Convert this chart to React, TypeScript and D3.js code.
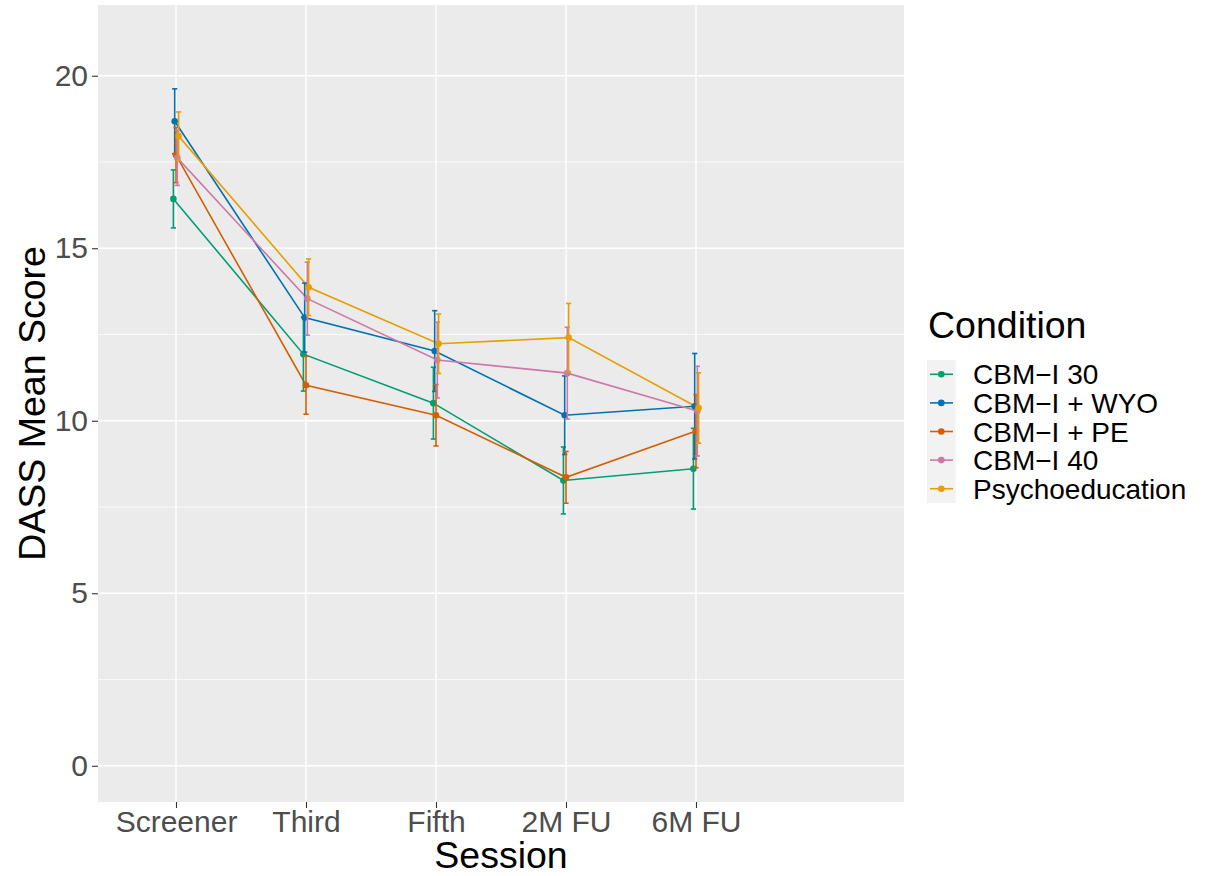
import React, { useEffect, useRef } from "react";
import * as d3 from "d3";

// sessions on the x axis
const sessions = ["Screener", "Third", "Fifth", "2M FU", "6M FU"];
const conditions = ["CBM−I 30", "CBM−I + WYO", "CBM−I + PE", "CBM−I 40", "Psychoeducation"];
const colors = ["#009E73", "#0072B2", "#D55E00", "#CC79A7", "#E69F00"];

// mean scores per condition
const cbm30Mean = [16.43, 11.93, 10.51, 8.27, 8.61];
const wyoMean = [18.68, 12.99, 12.02, 10.16, 10.42];
const peMean = [17.7, 11.03, 10.16, 8.36, 9.7];
const cbm40Mean = [17.62, 13.54, 11.76, 11.38, 10.28];
const psyMean = [18.25, 13.87, 12.23, 12.41, 10.37];

// standard errors
const cbm30Se = [0.84, 1.07, 1.04, 0.97, 1.17];
const wyoSe = [0.94, 1.0, 1.17, 1.14, 1.53];
const peSe = [0.8, 0.84, 0.89, 0.75, 1.06];
const cbm40Se = [0.8, 1.06, 1.1, 1.33, 1.3];
const psySe = [0.7, 0.82, 0.86, 0.99, 1.02];

const yTicks = [0, 5, 10, 15, 20];

const means = [cbm30Mean, wyoMean, peMean, cbm40Mean, psyMean];
const ses = [cbm30Se, wyoSe, peSe, cbm40Se, psySe];

const FONT = "'Liberation Sans', Arial, sans-serif";

export default function App() {
  const ref = useRef<SVGSVGElement>(null);

  useEffect(() => {
    const svg = d3.select(ref.current);
    svg.selectAll("*").remove();

    const panel = { left: 98, right: 904, top: 5, bottom: 802 };

    // extra empty slot on the right, like the original plot's limits
    const x = d3.scalePoint<string>()
      .domain([...sessions, ""])
      .range([panel.left, panel.right])
      .padding(0.6);
    const step = x.step();

    const y = d3.scaleLinear()
      .domain([-1.05, 22.05])
      .range([panel.bottom, panel.top]);

    // panel background
    svg.append("rect")
      .attr("x", panel.left)
      .attr("y", panel.top)
      .attr("width", panel.right - panel.left)
      .attr("height", panel.bottom - panel.top)
      .attr("fill", "#EBEBEB");

    // minor grid
    const minor = [2.5, 7.5, 12.5, 17.5];
    svg.selectAll(".minor")
      .data(minor)
      .enter()
      .append("line")
      .attr("x1", panel.left)
      .attr("x2", panel.right)
      .attr("y1", d => y(d))
      .attr("y2", d => y(d))
      .attr("stroke", "#fff")
      .attr("stroke-width", 0.7);

    // major grid
    svg.selectAll(".majorY")
      .data(yTicks)
      .enter()
      .append("line")
      .attr("x1", panel.left)
      .attr("x2", panel.right)
      .attr("y1", d => y(d))
      .attr("y2", d => y(d))
      .attr("stroke", "#fff")
      .attr("stroke-width", 1.4);

    svg.selectAll(".majorX")
      .data(sessions)
      .enter()
      .append("line")
      .attr("x1", d => x(d)!)
      .attr("x2", d => x(d)!)
      .attr("y1", panel.top)
      .attr("y2", panel.bottom)
      .attr("stroke", "#fff")
      .attr("stroke-width", 1.4);

    // y axis
    const yAxis = svg.append("g")
      .attr("transform", `translate(${panel.left},0)`)
      .call(d3.axisLeft(y).tickValues(yTicks).tickSize(6).tickPadding(4).tickFormat(d3.format("d")));
    yAxis.select(".domain").remove();
    yAxis.selectAll("line").attr("stroke", "#333333").attr("stroke-width", 1.1);
    yAxis.selectAll("text")
      .attr("fill", "#4D4D4D")
      .style("font-family", FONT)
      .style("font-size", "30px");

    // x axis
    const xAxis = svg.append("g")
      .attr("transform", `translate(0,${panel.bottom})`)
      .call(d3.axisBottom(x).tickValues(sessions).tickSize(6).tickPadding(3));
    xAxis.select(".domain").remove();
    xAxis.selectAll("line").attr("stroke", "#333333").attr("stroke-width", 1.1);
    xAxis.selectAll("text")
      .attr("fill", "#4D4D4D")
      .style("font-family", FONT)
      .style("font-size", "30px");

    // axis titles
    svg.append("text")
      .attr("x", (panel.left + panel.right) / 2)
      .attr("y", 868)
      .attr("text-anchor", "middle")
      .style("font-family", FONT)
      .style("font-size", "37.5px")
      .text("Session");

    svg.append("text")
      .attr("transform", `translate(45,${(panel.top + panel.bottom) / 2}) rotate(-90)`)
      .attr("text-anchor", "middle")
      .style("font-family", FONT)
      .style("font-size", "37.5px")
      .text("DASS Mean Score");

    // series
    const n = conditions.length;
    const dodge = (i: number) => (i - (n - 1) / 2) * 0.01 * step;

    const line = d3.line<[number, number]>()
      .x(d => d[0])
      .y(d => d[1]);

    conditions.forEach((c, i) => {
      const pts: [number, number][] = sessions.map((s, j) => [x(s)! + dodge(i), y(means[i][j])]);
      svg.append("path")
        .attr("d", line(pts))
        .attr("fill", "none")
        .attr("stroke", colors[i])
        .attr("stroke-width", 1.6);
    });

    conditions.forEach((c, i) => {
      const g = svg.append("g");
      sessions.forEach((s, j) => {
        const cx = x(s)! + dodge(i);
        const lo = y(means[i][j] - ses[i][j]);
        const hi = y(means[i][j] + ses[i][j]);
        g.append("line")
          .attr("x1", cx).attr("x2", cx)
          .attr("y1", lo).attr("y2", hi)
          .attr("stroke", colors[i]).attr("stroke-width", 1.6);
        [lo, hi].forEach(yy => {
          g.append("line")
            .attr("x1", cx - 2.6).attr("x2", cx + 2.6)
            .attr("y1", yy).attr("y2", yy)
            .attr("stroke", colors[i]).attr("stroke-width", 1.6);
        });
      });
      g.selectAll("circle")
        .data(sessions)
        .enter()
        .append("circle")
        .attr("cx", s => x(s)! + dodge(i))
        .attr("cy", (s, j) => y(means[i][j]))
        .attr("r", 3.3)
        .attr("fill", colors[i]);
    });

    // legend
    const lg = svg.append("g");
    lg.append("text")
      .attr("x", 928)
      .attr("y", 338)
      .style("font-family", FONT)
      .style("font-size", "37.5px")
      .text("Condition");

    const keyTop = 360;
    const keyH = 28.6;
    lg.append("rect")
      .attr("x", 927)
      .attr("y", keyTop)
      .attr("width", 28.6)
      .attr("height", keyH * n)
      .attr("fill", "#F2F2F2");

    conditions.forEach((c, i) => {
      const cy = keyTop + keyH * (i + 0.5);
      lg.append("line")
        .attr("x1", 930).attr("x2", 953)
        .attr("y1", cy).attr("y2", cy)
        .attr("stroke", colors[i]).attr("stroke-width", 1.6);
      lg.append("circle")
        .attr("cx", 941.3).attr("cy", cy).attr("r", 3.3)
        .attr("fill", colors[i]);
      lg.append("text")
        .attr("x", 973)
        .attr("y", cy)
        .attr("dy", "0.36em")
        .style("font-family", FONT)
        .style("font-size", "28px")
        .text(c);
    });
  }, []);

  return (
    <svg
      ref={ref}
      width={1214}
      height={876}
      style={{ position: "absolute", left: 0, top: 0, background: "#fff" }}
    />
  );
}
